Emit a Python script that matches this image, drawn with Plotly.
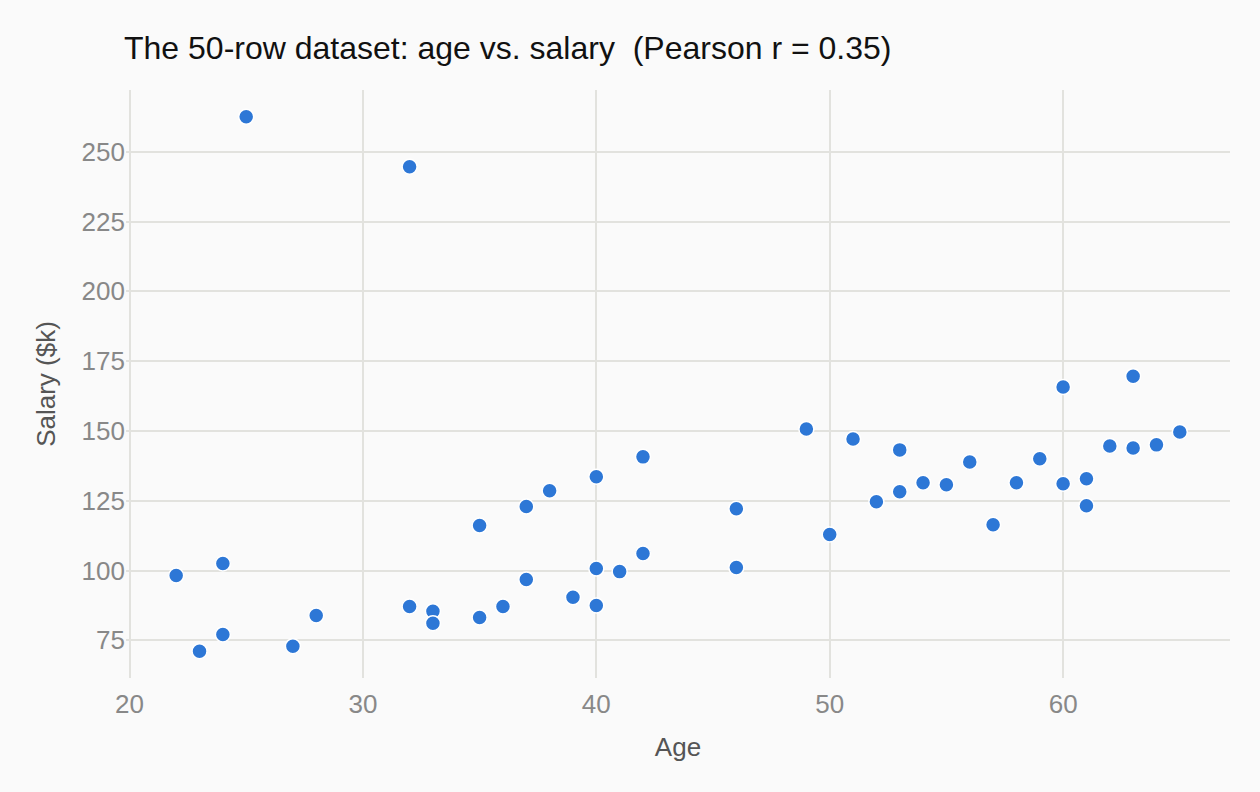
import plotly.graph_objects as go

age = [22, 23, 24, 24, 25, 27, 28, 32, 32, 33, 33, 35, 35, 36, 37, 37, 38, 39,
       40, 40, 40, 41, 42, 42, 46, 46, 49, 50, 51, 52, 53, 53, 54, 55, 56, 57,
       58, 59, 60, 60, 61, 61, 62, 63, 63, 64, 65]
salary = [98.2, 71.1, 102.5, 77.1, 262.5, 72.9, 83.9, 87.1, 244.6, 85.4, 81.1,
          83.2, 116.1, 87.1, 96.8, 122.9, 128.6, 90.4, 133.6, 100.7, 87.5, 99.6,
          106.1, 140.7, 122.1, 101.1, 150.7, 112.9, 147.1, 124.6, 143.2, 128.2,
          131.4, 130.7, 138.9, 116.4, 131.4, 140.0, 165.7, 131.1, 132.9, 123.2,
          144.6, 169.6, 143.9, 145.0, 149.6]
x_ticks = [20, 30, 40, 50, 60]
y_ticks = [75, 100, 125, 150, 175, 200, 225, 250]

title = "The 50-row dataset: age vs. salary  (Pearson r = 0.35)"
FONT = "Liberation Sans, Arial, Helvetica, sans-serif"

fig = go.Figure(
    go.Scatter(
        x=age, y=salary, mode="markers",
        marker=dict(size=15, color="#2d77d6", line=dict(color="white", width=1.5)),
        hoverinfo="x+y",
    )
)

fig.update_layout(
    width=1260, height=792,
    margin=dict(l=126, r=30, t=90, b=114),
    paper_bgcolor="#fafafa", plot_bgcolor="#fafafa",
    font=dict(family=FONT, color="#888888", size=26),
    title=dict(text=title, x=124 / 1260, xref="container", xanchor="left",
               y=1 - 48 / 792, yanchor="middle",
               font=dict(family=FONT, size=32, color="#111111")),
    showlegend=False,
)
fig.update_xaxes(
    range=[19.85, 67.15], tickvals=x_ticks,
    showgrid=True, gridcolor="#e2e2de", gridwidth=2, zeroline=False,
    showline=False, ticks="", tickfont=dict(size=26, color="#888888"),
    ticklabelstandoff=8,
    title=dict(text="Age", font=dict(size=26, color="#555555"), standoff=19),
)
fig.update_yaxes(
    range=[61.5, 272.1], tickvals=y_ticks, ticksuffix="\u00a0",
    showgrid=True, gridcolor="#e2e2de", gridwidth=2, zeroline=False,
    showline=False, ticks="", tickfont=dict(size=26, color="#888888"),
    title=dict(text="Salary ($k)", font=dict(size=26, color="#555555"), standoff=18),
)

fig.write_html("out.html")
